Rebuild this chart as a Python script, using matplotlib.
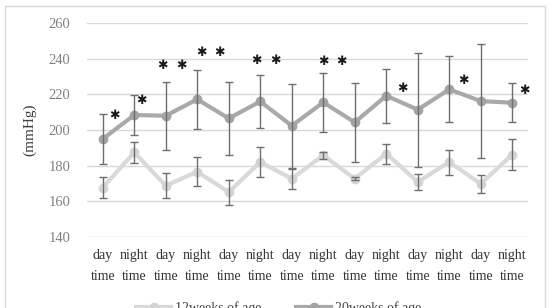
import numpy as np
import matplotlib
matplotlib.use("Agg")
import matplotlib.pyplot as plt
from matplotlib.patches import Rectangle

# data
categories = ["day\ntime", "night\ntime"] * 7
wk12_mean = [167.7, 187.4, 168.8, 176.6, 165.2, 182.0, 172.7,
             185.8, 172.7, 186.7, 170.9, 182.0, 169.9, 186.2]
wk12_sd = [5.8, 6.0, 7.0, 8.0, 7.0, 8.5, 5.6,
           2.0, 1.0, 5.5, 4.7, 7.0, 5.0, 8.7]
wk20_mean = [195.0, 208.4, 208.0, 217.2, 206.5, 216.0, 202.4,
             215.5, 204.3, 219.2, 211.4, 222.8, 216.2, 215.3]
wk20_sd = [14.0, 11.3, 19.0, 16.5, 20.3, 15.0, 23.5,
           16.5, 22.3, 15.0, 32.0, 18.5, 31.8, 11.0]
series_names = ["12weeks of age", "20weeks of age"]

# significance marks (x in category units, y in mmHg)
star_x = [0.38, 1.24, 1.9, 2.5, 3.14, 3.71, 4.88, 5.49, 7.0, 7.58, 9.51, 11.45, 13.38]
star_y = [208.4, 216.4, 235.9, 235.9, 243.5, 243.5, 239.0, 239.0, 238.6, 238.6, 223.4, 228.0, 221.9]

serif = ["Liberation Serif", "DejaVu Serif"]

fig = plt.figure(figsize=(5.52, 3.08), dpi=100)
ax = fig.add_axes([87 / 552, 1 - 237 / 308, 441 / 552, 214 / 308])

x = np.arange(len(categories))

ax.plot(x, wk12_mean, color="#d9d9d9", lw=3, marker="o", ms=6,
        mfc="#d4d4d4", mec="#d4d4d4", label=series_names[0], zorder=3)
ax.plot(x, wk20_mean, color="#a9a9a9", lw=3, marker="o", ms=6,
        mfc="#a3a3a3", mec="#a3a3a3", label=series_names[1], zorder=3)
ax.errorbar(x, wk12_mean, yerr=wk12_sd, fmt="none", ecolor="#6e6e6e",
            elinewidth=1.0, capsize=3, capthick=1.0, zorder=4)
ax.errorbar(x, wk20_mean, yerr=wk20_sd, fmt="none", ecolor="#6e6e6e",
            elinewidth=1.0, capsize=3, capthick=1.0, zorder=4)

for sx, sy in zip(star_x, star_y):
    ax.text(sx, sy, "✱", ha="center", va="center", fontsize=9,
            family="DejaVu Sans", color="#1a1a1a", zorder=5)

ax.set_xlim(-0.5, 13.5)
ax.set_ylim(140, 260)
ax.set_yticks(np.arange(140, 261, 20))
ax.set_xticks(x)
ax.set_xticklabels(categories, family=serif, fontsize=10, color="#333333",
                   linespacing=1.75)
for lab in ax.get_yticklabels():
    lab.set_family(serif)
    lab.set_fontsize(10.5)
    lab.set_color("#808080")
ax.tick_params(axis="y", length=0, pad=12)
ax.tick_params(axis="x", length=0, pad=9)
ax.grid(axis="y", color="#d9d9d9", lw=1)
ax.set_axisbelow(True)
for s in ax.spines.values():
    s.set_visible(False)

ax.set_ylabel("(mmHg)", family=serif, fontsize=11, color="#404040", labelpad=9)

# chart area border, cut off at the bottom like the reference
fig.patches.append(Rectangle((5 / 552, -0.2), 540 / 552, 1.2 - 6 / 308,
                             transform=fig.transFigure, fill=False,
                             ec="#d9d9d9", lw=1))

fig.legend(loc="center", bbox_to_anchor=(0.505, 0.0), ncol=2, frameon=False,
           prop={"family": serif, "size": 10}, labelcolor="#404040",
           handlelength=2.5, columnspacing=2.5, handletextpad=0.3)

fig.savefig("out.png", dpi=100)
